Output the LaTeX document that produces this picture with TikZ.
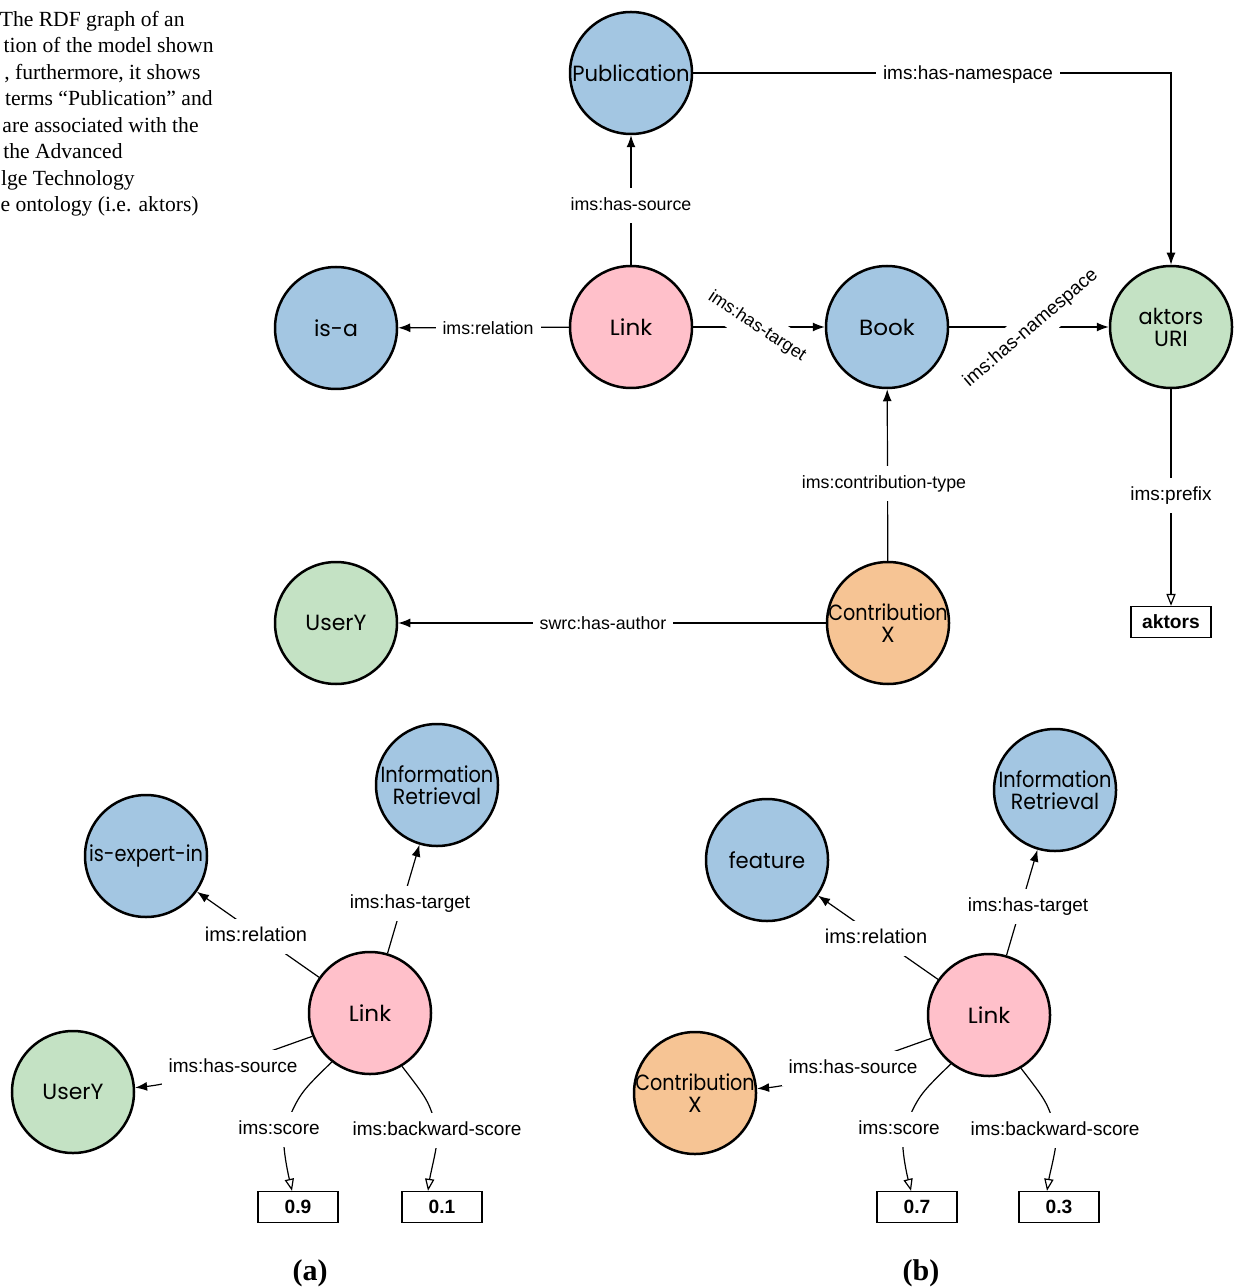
\documentclass[tikz,border=0pt]{standalone}
\usepackage{graphicx}
\usepackage{fontspec}
\setmainfont{Liberation Serif}
\newfontfamily\nodefont{Poppins}
\newfontfamily\lblfont{Liberation Sans}
\usetikzlibrary{arrows.meta}
\definecolor{cblue}{RGB}{163,198,226}
\definecolor{cpink}{RGB}{255,192,202}
\definecolor{cgreen}{RGB}{196,226,196}
\definecolor{corange}{RGB}{246,196,148}
\newcommand{\hsc}[2]{\scalebox{#1}[1]{#2}}
\begin{document}
\begin{tikzpicture}[x=0.5pt,y=-0.5pt,
  circ/.style={circle,draw=black,line width=1.25pt,minimum size=61pt,inner sep=-10pt,align=center,font=\nodefont\fontsize{11}{11}\selectfont},
  lbl/.style={fill=white,inner xsep=3.5pt,inner ysep=4.5pt,text height=6.5pt,text depth=1.9pt,yshift=-0.8pt,font=\lblfont\fontsize{#1}{10}\selectfont},
  lbl/.default=8.9,
  valbox/.style={draw=black,line width=0.7pt,minimum width=40pt,minimum height=15.5pt,inner sep=0pt,font=\lblfont\bfseries\fontsize{9.6}{10}\selectfont},
  edge/.style={line width=0.6pt,-{Latex[length=6pt,width=4.5pt]}},
  oedge/.style={line width=0.6pt,-{Triangle[open,length=6pt,width=4.6pt,fill=white]}},
  captxt/.style={anchor=base east,inner sep=0pt,font=\fontsize{10.8}{12}\selectfont},
  sublbl/.style={anchor=base,inner sep=0pt,font=\bfseries\fontsize{15}{15}\selectfont}]
\useasboundingbox (0,0) rectangle (1235,1288);

% caption fragment
\node[captxt] (t1) at (185,27) {The RDF graph of an};
\node[captxt] (t2) at (214,53) {tion of the model shown};
\node[captxt] (t3) at (201,80) {, furthermore, it shows};
\node[captxt] (t4) at (213,106) {terms “Publication” and};
\node[captxt] (t5) at (199,133) {are associated with the};
\node[captxt] (t6) at (123,159) {the Advanced};
\node[captxt] (t7) at (135,186) {lge Technology};
\node[captxt] (t8) at (199,212) {e ontology (i.e. aktors)};

% top graph nodes
\node[circ,fill=cblue] (pub) at (631,73) {\hsc{0.96}{Publication}};
\node[circ,fill=cpink] (lnk) at (631,327) {\hsc{1.05}{Link}};
\node[circ,fill=cblue] (isa) at (336,328) {is-a};
\node[circ,fill=cblue] (book) at (887,327) {\hsc{1.05}{Book}};
\node[circ,fill=cgreen] (akt) at (1171,327) {\hsc{0.95}{aktors}\\URI};
\node[circ,fill=cgreen] (usr) at (336,623) {UserY};
\node[circ,fill=corange] (con) at (888,623) {\hsc{0.87}{Contribution}\\X};
\node[valbox] (aktbox) at (1171,622) {aktors};

% top graph edges
\draw[edge] (lnk) -- (pub);
\draw[edge] (lnk) -- (isa);
\draw[edge] (lnk) -- (book);
\draw[edge] (book) -- (akt);
\draw[edge] (pub) -| (akt);
\draw[oedge] (akt) -- (aktbox);
\draw[edge] (con) -- (book);
\draw[edge] (con) -- (usr);

\node[lbl] (e1) at (631,204) {ims:has-source};
\node[lbl] (e2) at (488,328) {ims:relation};
\node[lbl,rotate=-33.5] (e3) at (757,325) {ims:has-target};
\node[lbl=9.5,rotate=40.5] (e4) at (1031,327) {ims:has-namespace};
\node[lbl=9.5] (e5) at (968,73) {ims:has-namespace};
\node[lbl=9.5] (e6) at (1171,494) {ims:prefix};
\node[lbl] (e7) at (884,482) {ims:contribution-type};
\node[lbl] (e8) at (603,623) {swrc:has-author};

% (a)
\node[circ,fill=cblue] (exp) at (146,856) {\hsc{0.88}{is-expert-in}};
\node[circ,fill=cblue] (ira) at (437,785) {\hsc{0.88}{Information}\\\hsc{0.93}{Retrieval}};
\node[circ,fill=cpink] (lna) at (370,1013) {\hsc{1.05}{Link}};
\node[circ,fill=cgreen] (usa) at (73,1092) {UserY};
\node[valbox] (va1) at (298,1207) {0.9};
\node[valbox] (va2) at (442,1207) {0.1};

\draw[edge] (lna) -- (exp);
\draw[edge] (lna) -- (ira);
\draw[edge] (lna.202) .. controls (262,1054) and (188,1082) .. (usa.4);
\draw[oedge] (lna.-128) .. controls (300,1093) .. (285,1127) .. controls (281,1140) and (287,1169) .. ([xshift=-3pt]va1.north);
\draw[oedge] (lna.-59) .. controls (428,1100) .. (437,1128) .. controls (440,1138) and (431,1170) .. ([xshift=-7pt]va2.north);

\node[lbl=10] (a1) at (256,935) {ims:relation};
\node[lbl=9.5] (a2) at (410,902) {ims:has-target};
\node[lbl=9.5] (a3) at (233,1066) {ims:has-source};
\node[lbl=9.5] (a4) at (279,1128) {ims:score};
\node[lbl=9.5] (a5) at (437,1129) {ims:backward-score};

% (b)
\node[circ,fill=cblue] (feat) at (767,860) {\hsc{0.96}{feature}};
\node[circ,fill=cblue] (irb) at (1055,790) {\hsc{0.88}{Information}\\\hsc{0.93}{Retrieval}};
\node[circ,fill=cpink] (lnb) at (989,1015) {\hsc{1.05}{Link}};
\node[circ,fill=corange] (conb) at (695,1093) {\hsc{0.87}{Contribution}\\X};
\node[valbox] (vb1) at (917,1207) {0.7};
\node[valbox] (vb2) at (1059,1207) {0.3};

\draw[edge] (lnb) -- (feat);
\draw[edge] (lnb) -- (irb);
\draw[edge] (lnb.202) .. controls (881,1056) and (807,1084) .. (conb.4);
\draw[oedge] (lnb.-128) .. controls (919,1095) .. (904,1129) .. controls (900,1142) and (906,1171) .. ([xshift=-3pt]vb1.north);
\draw[oedge] (lnb.-59) .. controls (1047,1102) .. (1056,1130) .. controls (1059,1140) and (1050,1172) .. ([xshift=-6pt]vb2.north);

\node[lbl=10] (b1) at (876,937) {ims:relation};
\node[lbl=9.5] (b2) at (1028,905) {ims:has-target};
\node[lbl=9.5] (b3) at (853,1067) {ims:has-source};
\node[lbl=9.5] (b4) at (899,1128) {ims:score};
\node[lbl=9.5] (b5) at (1055,1129) {ims:backward-score};

\node[sublbl] (capa) at (310,1280) {(a)};
\node[sublbl] (capb) at (921,1280) {(b)};
\end{tikzpicture}
\end{document}
